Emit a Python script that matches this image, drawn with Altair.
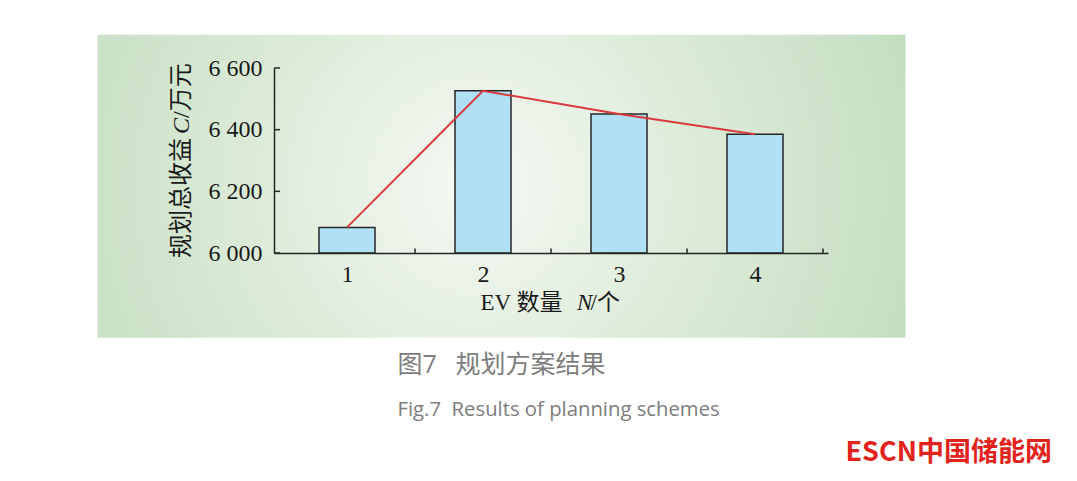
import altair as alt
import pandas as pd

# ---- data ----
ev_count = [1, 2, 3, 4]
total_benefit = [6083, 6526, 6451, 6385]
x_minor_ticks = [1.5, 2.5, 3.5, 4.5]
y_ticks = [6000, 6200, 6400, 6600]

df = pd.DataFrame({"n": ev_count, "c": total_benefit})
df_xt = pd.DataFrame({"t": x_minor_ticks})
df_yt = pd.DataFrame({"t": y_ticks})
one = pd.DataFrame({"a": [0]})

W, H = 554, 185
SERIF = "Liberation Serif, Noto Sans CJK SC"
SANS = "Open Sans, Noto Sans CJK SC"

xs = alt.Scale(domain=[0.5, 4.5], nice=False, zero=False)
ys = alt.Scale(domain=[6000, 6600], nice=False, zero=False)

bg = alt.Chart(one).mark_rect(
    fill=alt.RadialGradient(
        gradient="radial",
        x1=0.47, y1=0.5, r1=0.0,
        x2=0.47, y2=0.5, r2=0.62,
        stops=[
            alt.GradientStop(color="#f6f9f4", offset=0.0),
            alt.GradientStop(color="#dcebd8", offset=0.45),
            alt.GradientStop(color="#bfdbbc", offset=1.0),
        ],
    )
).encode(
    x=alt.value(-176.5), x2=alt.value(631.5),
    y=alt.value(-33.3), y2=alt.value(269.7),
)

bars = alt.Chart(df).mark_bar(
    size=56, fill="#afe0f3", stroke="#262626", strokeWidth=1.5
).encode(
    x=alt.X("n:Q", scale=xs,
            axis=alt.Axis(values=ev_count, ticks=False, labelPadding=9,
                          title=None, grid=False, format="d", zindex=2,
                          domainColor="#262626", domainWidth=1.5,
                          labelFont="Liberation Serif", labelFontSize=24,
                          labelColor="#1a1a1a")),
    y=alt.Y("c:Q", scale=ys,
            axis=alt.Axis(values=y_ticks, ticks=False, labelPadding=12,
                          title=None, grid=False, zindex=2,
                          domainColor="#262626", domainWidth=1.5,
                          labelFont="Liberation Serif", labelFontSize=24,
                          labelColor="#1a1a1a",
                          labelExpr="replace(format(datum.value, ','), ',', ' ')")),
    y2=alt.datum(6000),
)

line = alt.Chart(df).mark_line(color="#db3a3c", strokeWidth=2).encode(
    x=alt.X("n:Q", scale=xs), y=alt.Y("c:Q", scale=ys)
)

xt = alt.Chart(df_xt).mark_rule(color="#262626", strokeWidth=1.5).encode(
    x=alt.X("t:Q", scale=xs), y=alt.value(H), y2=alt.value(H - 4.5)
)
yt = alt.Chart(df_yt).mark_rule(color="#262626", strokeWidth=1.5).encode(
    y=alt.Y("t:Q", scale=ys), x=alt.value(0), x2=alt.value(6)
)

def txt(s, x, y, size, font=SERIF, color="#1a1a1a", align="left",
        baseline="middle", angle=0, style="normal", weight="normal"):
    kw = dict(text=s, fontSize=size, font=font, color=color, align=align,
              baseline=baseline, fontStyle=style, fontWeight=weight)
    if angle:
        kw["angle"] = angle
    return alt.Chart(one).mark_text(**kw).encode(x=alt.value(x), y=alt.value(y))

texts = [
    # x title
    txt("EV 数量", 288.5, 235, 23, align="right"),
    txt("N", 303, 235, 23, style="italic"),
    txt("/个", 316.5, 235, 23),
    # y title (rotated)
    txt("规划总收益", -92, 190, 24, align="left", angle=270),
    txt("C", -92, 58, 24, align="center", angle=270, style="italic"),
    txt("/万元", -92, 50, 24, align="left", angle=270),
    # captions
    txt("图7", 123.5, 297, 25, font=SANS, color="#7d7d7d"),
    txt("规划方案结果", 181.5, 297, 25, font=SANS, color="#7d7d7d"),
    txt("Fig.7\u00a0\u00a0Results of planning schemes", 123.5, 342, 20.3,
        font=SANS, color="#7d7d7d"),
    # logo
    txt("ESCN中国储能网", 571.5, 385, 27, font="Noto Sans CJK SC", color="#e1231b",
        weight="bold"),
]

chart = alt.layer(bg, bars, line, xt, yt, *texts).properties(
    width=W, height=H,
    autosize=alt.AutoSizeParams(type="none"),
    padding={"left": 266, "top": 60, "right": 241, "bottom": 220},
    background="white",
).configure_view(stroke=None)

chart.save("out.html", embed_options={"renderer": "svg", "actions": False})
